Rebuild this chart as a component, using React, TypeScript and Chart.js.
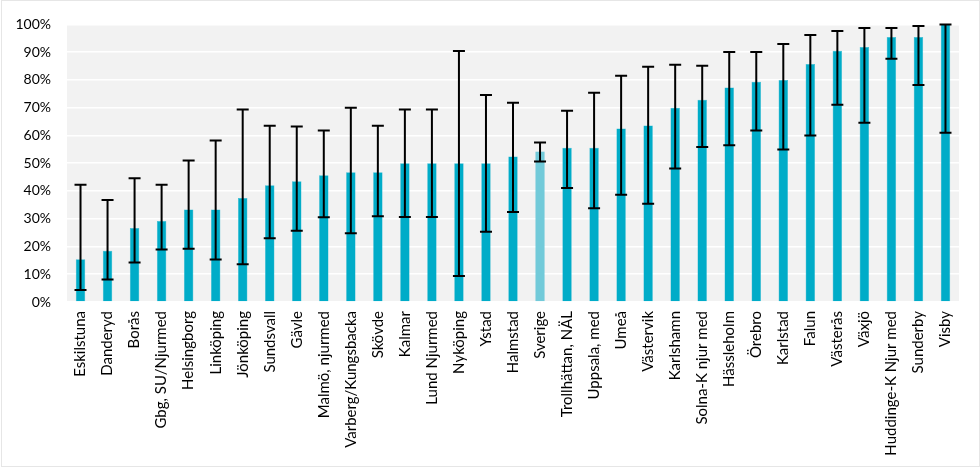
import React, { useEffect, useRef } from "react";
import { Chart, registerables } from "chart.js";

Chart.register(...registerables);

const categories = [
  "Eskilstuna", "Danderyd", "Borås", "Gbg, SU/Njurmed", "Helsingborg", "Linköping",
  "Jönköping", "Sundsvall", "Gävle", "Malmö, njurmed", "Varberg/Kungsbacka", "Skövde",
  "Kalmar", "Lund Njurmed", "Nyköping", "Ystad", "Halmstad", "Sverige",
  "Trollhättan, NÄL", "Uppsala, med", "Umeå", "Västervik", "Karlshamn", "Solna-K njur med",
  "Hässleholm", "Örebro", "Karlstad", "Falun", "Västerås", "Växjö",
  "Huddinge-K Njur med", "Sunderby", "Visby",
];

const values = [
  15.4, 18.5, 26.7, 29.2, 33.3, 33.3,
  37.5, 42.1, 43.5, 45.7, 46.7, 46.7,
  50.0, 50.0, 50.0, 50.0, 52.4, 54.2,
  55.6, 55.6, 62.5, 63.6, 70.0, 72.9,
  77.3, 79.3, 80.0, 85.7, 90.5, 91.9,
  95.5, 95.5, 100,
];

const upper = [
  42.2, 36.7, 44.6, 42.2, 51.0, 58.2,
  69.3, 63.5, 63.2, 61.8, 70.0, 63.5,
  69.3, 69.3, 90.4, 74.6, 71.8, 57.5,
  68.9, 75.4, 81.5, 84.7, 85.5, 85.1,
  90.1, 90.1, 92.9, 96.2, 97.6, 98.7,
  98.7, 99.4, 100,
];

const lower = [
  4.3, 8.1, 14.2, 18.9, 19.2, 15.3,
  13.6, 23.0, 25.7, 30.5, 24.8, 30.9,
  30.6, 30.6, 9.4, 25.3, 32.4, 50.6,
  41.1, 33.8, 38.6, 35.4, 48.1, 55.8,
  56.5, 61.8, 54.9, 60.0, 71.1, 64.6,
  87.6, 78.2, 61.0,
];

const highlight = "Sverige";

const bgPlugin = {
  id: "plotBg",
  beforeDraw(chart: any) {
    const { ctx, chartArea } = chart;
    ctx.save();
    ctx.fillStyle = "#f2f2f2";
    ctx.fillRect(chartArea.left, chartArea.top, chartArea.right - chartArea.left, chartArea.bottom - chartArea.top);
    ctx.restore();
  },
};

const errorPlugin = {
  id: "errorBars",
  afterDatasetsDraw(chart: any) {
    const { ctx } = chart;
    const xs = chart.scales.x;
    const ys = chart.scales.y;
    ctx.save();
    ctx.strokeStyle = "#000";
    ctx.lineWidth = 2;
    const cap = 6;
    for (let i = 0; i < categories.length; i++) {
      const x = xs.getPixelForValue(i);
      const yu = ys.getPixelForValue(upper[i]);
      const yl = ys.getPixelForValue(lower[i]);
      ctx.beginPath();
      ctx.moveTo(x, yu);
      ctx.lineTo(x, yl);
      ctx.moveTo(x - cap, yu);
      ctx.lineTo(x + cap, yu);
      ctx.moveTo(x - cap, yl);
      ctx.lineTo(x + cap, yl);
      ctx.stroke();
    }
    ctx.restore();
  },
};

export default function App() {
  const ref = useRef<HTMLCanvasElement>(null);
  useEffect(() => {
    document.body.style.margin = "0";
    const colors = categories.map((c) => (c === highlight ? "#72cad9" : "#00acc8"));
    const borders = categories.map((c) => (c === highlight ? "#5bc0d3" : "#2fbad2"));
    const chart = new Chart(ref.current!, {
      type: "bar",
      data: {
        labels: categories,
        datasets: [
          {
            data: values,
            backgroundColor: colors,
            borderColor: borders,
            borderWidth: 0.5,
            barPercentage: 0.35,
            categoryPercentage: 1,
          },
        ],
      },
      options: {
        responsive: false,
        animation: false,
        layout: { padding: { top: 23, right: 21, left: 0, bottom: 0 } },
        plugins: { legend: { display: false }, tooltip: { enabled: false } },
        scales: {
          x: {
            grid: { display: false, drawTicks: false },
            border: { display: false },
            ticks: {
              autoSkip: false,
              minRotation: 90,
              maxRotation: 90,
              padding: 9,
              color: "#000",
              font: { family: "Lato", size: 15 },
            },
            afterFit(scale: any) {
              scale.height = 165;
            },
          },
          y: {
            min: 0,
            max: 100,
            grid: { color: "#ffffff", lineWidth: 1.5, drawTicks: false },
            border: { display: false },
            ticks: {
              stepSize: 10,
              padding: 16,
              color: "#000",
              font: { family: "Lato", size: 14 },
              callback: (v: any) => v + "%",
            },
            afterFit(scale: any) {
              scale.width = 67;
            },
          },
        },
      },
      plugins: [bgPlugin, errorPlugin],
    });
    return () => chart.destroy();
  }, []);
  return (
    <div style={{ width: 980, height: 467, position: "relative" }}>
      <canvas ref={ref} width={980} height={467} style={{ display: "block" }} />
      <div style={{ position: "absolute", left: 1, top: 0, width: 977, height: 465, border: "1px solid #e6e6e6", pointerEvents: "none" }} />
    </div>
  );
}
